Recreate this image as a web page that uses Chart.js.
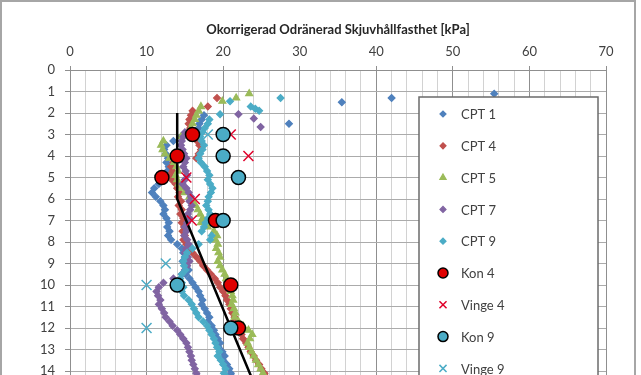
<!DOCTYPE html>
<html><head><meta charset="utf-8">
<script src="https://cdn.jsdelivr.net/npm/chart.js@4.4.1/dist/chart.umd.min.js"></script>
<style>
html,body{margin:0;padding:0;background:#fff;overflow:hidden;}
#wrap{position:absolute;left:0;top:0;width:641px;height:375px;overflow:hidden;background:#fff;}
#frame{position:absolute;left:0;top:0;width:636px;height:600px;border:2px solid #a6a6a6;box-sizing:border-box;pointer-events:none;}
#c{position:absolute;left:0;top:0;}
</style></head><body>
<div id="wrap"><canvas id="c" width="641" height="520"></canvas><div id="frame"></div></div>
<script>
// ---- data: [shear strength kPa, depth m] ----
const titleText = 'Okorrigerad Odränerad Skjuvhållfasthet [kPa]';
const seriesNames = ['CPT 1','CPT 4','CPT 5','CPT 7','CPT 9','Kon 4','Vinge 4','Kon 9','Vinge 9'];

const cpt1 = [[55.4,1.1],[42.0,1.3],[35.5,1.5],[28.6,2.5],
[17.5,2.1],[17.2,2.3],[16.9,2.5],[16.8,2.7],[16.5,2.9],[14.5,3.1],[13.5,3.3],[12.6,3.5],[12.3,3.7],[12.5,3.9],[12.8,4.1],[12.6,4.3],[12.9,4.5],[12.7,4.7],[12.3,4.9],[12.0,5.1],[11.6,5.3],[11.0,5.5],[10.7,5.7],[11.2,5.9],[11.8,6.1],[12.2,6.3],[12.4,6.5],[12.2,6.7],[12.6,6.9],[12.9,7.1],[12.7,7.3],[13.0,7.5],[12.8,7.7],[13.2,7.9],[14.0,8.1],[14.6,8.3],[14.8,8.5],[15.0,8.7],[14.7,8.9],[15.2,9.1],[15.5,9.3],[15.1,9.5],[15.6,9.7],[16.0,9.9],[16.4,10.1],[16.8,10.3],[17.0,10.5],[17.3,10.7],[17.2,10.9],[17.6,11.1],[17.9,11.3],[18.2,11.5],[18.0,11.7],[18.5,11.9],[18.8,12.1],[19.0,12.3],[19.3,12.5],[19.6,12.7],[19.4,12.9],[19.9,13.1],[20.2,13.3],[20.0,13.5],[20.5,13.7],[20.8,13.9],[21.0,14.1],[21.3,14.3],[21.5,14.5]];

const cpt4 = [[19.2,1.3],[18.0,1.7],[16.0,1.9],[15.8,2.1],[15.6,2.3],[15.5,2.5],[15.7,2.7],[15.4,2.9],[15.6,3.1],[16.6,3.3],[16.9,3.5],[17.1,3.7],[16.8,3.9],[16.5,4.1],[13.5,4.3],[13.2,4.5],[13.4,4.7],[13.0,4.9],[13.3,5.1],[13.8,5.3],[14.0,5.5],[14.3,5.7],[14.1,5.9],[14.5,6.1],[14.2,6.3],[14.6,6.5],[14.4,6.7],[14.8,6.9],[14.6,7.1],[14.9,7.3],[14.7,7.5],[15.0,7.7],[14.8,7.9],[15.2,8.1],[15.6,8.3],[16.0,8.5],[16.5,8.7],[17.0,8.9],[17.4,9.1],[17.9,9.3],[18.4,9.5],[18.9,9.7],[19.3,9.9],[19.6,10.1],[20.0,10.3],[20.3,10.5],[20.5,10.7],[20.8,10.9],[21.0,11.1],[21.2,11.3],[21.5,11.5],[21.4,11.7],[21.8,11.9],[22.0,12.1],[22.4,12.3],[22.6,12.5],[23.0,12.7],[23.3,12.9],[23.6,13.1],[24.0,13.3],[24.3,13.5],[24.7,13.7],[25.0,13.9],[25.4,14.1],[25.7,14.3]];

const cpt5 = [[23.4,1.1],[21.7,1.3],[19.9,1.45],[17.1,1.7],[16.8,1.9],[16.5,2.1],[16.3,2.3],[16.0,2.5],[15.8,2.7],[15.5,2.9],[14.5,3.1],[12.2,3.3],[11.9,3.5],[12.1,3.7],[12.4,3.9],[13.0,4.1],[13.6,4.3],[13.9,4.5],[14.1,4.7],[13.8,4.9],[14.0,5.1],[14.2,5.3],[14.5,5.5],[15.0,5.7],[15.6,5.9],[16.0,6.1],[16.4,6.3],[16.7,6.5],[17.0,6.7],[17.3,6.9],[17.1,7.1],[18.0,7.3],[18.8,7.5],[19.2,7.7],[19.0,7.9],[19.3,8.1],[19.1,8.3],[19.4,8.5],[19.6,8.7],[19.3,8.9],[19.6,9.1],[19.9,9.3],[20.2,9.5],[20.4,9.7],[20.6,9.9],[20.8,10.1],[21.0,10.3],[21.2,10.5],[21.3,10.7],[21.1,10.9],[21.4,11.1],[21.6,11.3],[21.5,11.5],[22.0,11.7],[22.6,11.9],[23.3,12.1],[23.8,12.3],[23.5,12.5],[23.2,12.7],[23.4,12.9],[23.7,13.1],[24.0,13.3],[24.3,13.5],[24.6,13.7],[24.9,13.9],[25.2,14.1],[25.5,14.3]];

const cpt7 = [[22.0,2.06],[24.0,2.26],[24.9,2.65],
[15.0,2.9],[14.8,3.1],[14.6,3.3],[14.5,3.5],[14.7,3.7],[14.9,3.9],[15.2,4.1],[15.0,4.3],[14.8,4.5],[15.1,4.7],[15.3,4.9],[15.0,5.1],[14.7,5.3],[15.2,5.5],[15.5,5.7],[15.8,5.9],[15.6,6.1],[15.9,6.3],[15.7,6.5],[15.4,6.7],[15.6,6.9],[15.3,7.1],[15.0,7.3],[15.2,7.5],[14.9,7.7],[15.3,7.9],[15.5,8.1],[15.2,8.3],[15.0,8.5],[15.4,8.7],[15.6,8.9],[15.3,9.1],[15.0,9.3],[14.6,9.5],[13.5,9.7],[12.2,9.9],[11.6,10.1],[11.3,10.3],[11.5,10.5],[11.8,10.7],[11.6,10.9],[12.0,11.1],[12.3,11.3],[12.5,11.5],[13.0,11.7],[13.4,11.9],[14.0,12.1],[14.4,12.3],[14.8,12.5],[15.2,12.7],[15.4,12.9],[15.6,13.1],[15.8,13.3],[15.9,13.5],[16.1,13.7],[16.3,13.9],[16.5,14.1],[16.8,14.3]];

const cpt9 = [[27.5,1.3],[20.9,1.45],[23.6,1.7],[24.2,1.8],[24.7,1.9],[19.6,2.06],
[18.2,2.3],[18.0,2.5],[17.6,2.7],[17.3,2.9],[17.0,3.1],[17.2,3.3],[17.5,3.5],[17.3,3.7],[17.0,3.9],[16.8,4.1],[17.1,4.3],[17.6,4.5],[17.9,4.7],[18.2,4.9],[18.0,5.1],[18.3,5.3],[18.6,5.5],[18.4,5.7],[18.1,5.9],[18.0,6.1],[17.8,6.3],[18.1,6.5],[18.3,6.7],[18.0,6.9],[17.7,7.1],[17.5,7.3],[17.2,7.5],[18.5,7.7],[18.3,7.9],[16.8,8.1],[16.0,8.3],[15.3,8.5],[15.0,8.7],[14.8,8.9],[14.9,9.1],[15.1,9.3],[14.6,9.5],[14.4,9.7],[14.6,9.9],[14.8,10.1],[14.6,10.3],[14.9,10.5],[15.5,10.7],[15.9,10.9],[16.2,11.1],[16.5,11.3],[16.8,11.5],[17.4,11.7],[17.9,11.9],[18.2,12.1],[18.5,12.3],[18.8,12.5],[19.0,12.7],[19.2,12.9],[19.5,13.1],[19.3,13.3],[19.7,13.5],[20.0,13.7],[20.3,13.9],[20.1,14.1],[20.5,14.3]];

const kon4   = [[16,3],[14,4],[12,5],[19,7],[21,10],[22,12]];
const vinge4 = [[21,3],[23.3,4],[15.2,5],[16.3,6],[15.9,7]];
const kon9   = [[20,3],[20,4],[22,5],[20,7],[14,10],[21,12]];
const vinge9 = [[18,3],[12.5,9],[10,10],[10,12]];
const trendLine = [[14,2],[14,6],[25.7,16]];

// ---- chart ----
const toXY = arr => arr.map(p => ({x: p[0], y: p[1]}));

const styles = [
  {pointStyle:'rectRot', radius:3.4, backgroundColor:'#4F81BD', borderColor:'#4F81BD', borderWidth:1.2},
  {pointStyle:'rectRot', radius:3.4, backgroundColor:'#C0504D', borderColor:'#C0504D', borderWidth:1.2},
  {pointStyle:'triangle', radius:4, backgroundColor:'#9BBB59', borderColor:'#9BBB59', borderWidth:1.2},
  {pointStyle:'rectRot', radius:3.4, backgroundColor:'#8064A2', borderColor:'#8064A2', borderWidth:1.2},
  {pointStyle:'rectRot', radius:3.4, backgroundColor:'#4BACC6', borderColor:'#4BACC6', borderWidth:1.2},
  {pointStyle:'circle', radius:7, backgroundColor:'#E00000', borderColor:'#000000', borderWidth:1.5},
  {pointStyle:'crossRot', radius:7, backgroundColor:'#E0002A', borderColor:'#E0002A', borderWidth:1.5},
  {pointStyle:'circle', radius:7, backgroundColor:'#4BACC6', borderColor:'#000000', borderWidth:1.5},
  {pointStyle:'crossRot', radius:7, backgroundColor:'#4BACC6', borderColor:'#4BACC6', borderWidth:1.5}
];
const legendRadius = [3,3,3.6,3,3,5,5,5,5];
const allData = [cpt1, cpt4, cpt5, cpt7, cpt9, kon4, vinge4, kon9, vinge9];

const datasets = allData.map((d, i) => ({
  label: seriesNames[i],
  data: toXY(d),
  showLine: false,
  pointStyle: styles[i].pointStyle,
  pointRadius: styles[i].radius,
  pointHoverRadius: styles[i].radius,
  pointBackgroundColor: styles[i].backgroundColor,
  pointBorderColor: styles[i].borderColor,
  pointBorderWidth: styles[i].borderWidth,
  order: (i < 5) ? 20 - i : 8 - i
}));
datasets.push({
  label: 'Trend',
  data: toXY(trendLine),
  showLine: true,
  borderColor: '#000000',
  borderWidth: 2.5,
  pointRadius: 0,
  order: 10
});

const legendPlugin = {
  id: 'boxLegend',
  afterDraw(chart) {
    const ctx = chart.ctx;
    ctx.save();
    ctx.fillStyle = '#ffffff';
    ctx.fillRect(419, 97, 179, 500);
    ctx.strokeStyle = '#6b6b6b';
    ctx.lineWidth = 1.5;
    ctx.strokeRect(419, 97, 179, 500);
    for (let i = 0; i < seriesNames.length; i++) {
      const y = 114 + i * 31.8;
      const s = styles[i];
      ctx.fillStyle = s.backgroundColor;
      ctx.strokeStyle = s.borderColor;
      ctx.lineWidth = s.borderWidth;
      Chart.helpers.drawPoint(ctx, {pointStyle: s.pointStyle, radius: legendRadius[i], borderWidth: s.borderWidth, rotation: 0}, 443, y);
      ctx.fillStyle = '#404040';
      ctx.font = '13px Lato';
      ctx.textBaseline = 'middle';
      ctx.textAlign = 'left';
      ctx.fillText(seriesNames[i], 461, y + 1);
    }
    ctx.restore();
  }
};

new Chart(document.getElementById('c'), {
  type: 'scatter',
  data: { datasets },
  options: {
    responsive: false,
    animation: false,
    layout: { padding: { left: 0, right: 35, top: 0, bottom: 20 } },
    plugins: { legend: { display: false }, tooltip: { enabled: false } },
    scales: {
      x: {
        type: 'linear', position: 'top', min: 0, max: 70,
        afterFit: s => { s.height = 70; },
        ticks: {
          stepSize: 2, autoSkip: false, maxRotation: 0, padding: 6,
          color: '#404040', font: { family: 'Lato', size: 13 },
          callback: v => (v % 10 === 0 ? v : '')
        },
        grid: {
          color: c => (c.tick && c.tick.value % 10 === 0 ? '#8f8f8f' : '#d2d2d2'),
          tickColor: c => (c.tick && c.tick.value % 10 === 0 ? '#8f8f8f' : 'rgba(0,0,0,0)'),
          tickLength: 4, lineWidth: 1
        },
        border: { display: true, color: '#8f8f8f' },
        title: {
          display: true, text: titleText, color: '#262626',
          font: { family: 'Lato', size: 13, weight: 'bold' },
          padding: { top: 22, bottom: 0 }
        }
      },
      y: {
        type: 'linear', reverse: true, min: 0, max: 20,
        afterFit: s => { s.width = 70; },
        ticks: { stepSize: 1, autoSkip: false, padding: 10, color: '#404040', font: { family: 'Lato', size: 13 } },
        grid: { color: '#ababab', tickColor: '#8f8f8f', tickLength: 5, lineWidth: 1 },
        border: { display: true, color: '#8f8f8f' }
      }
    }
  },
  plugins: [legendPlugin]
});
</script>
</body></html>
